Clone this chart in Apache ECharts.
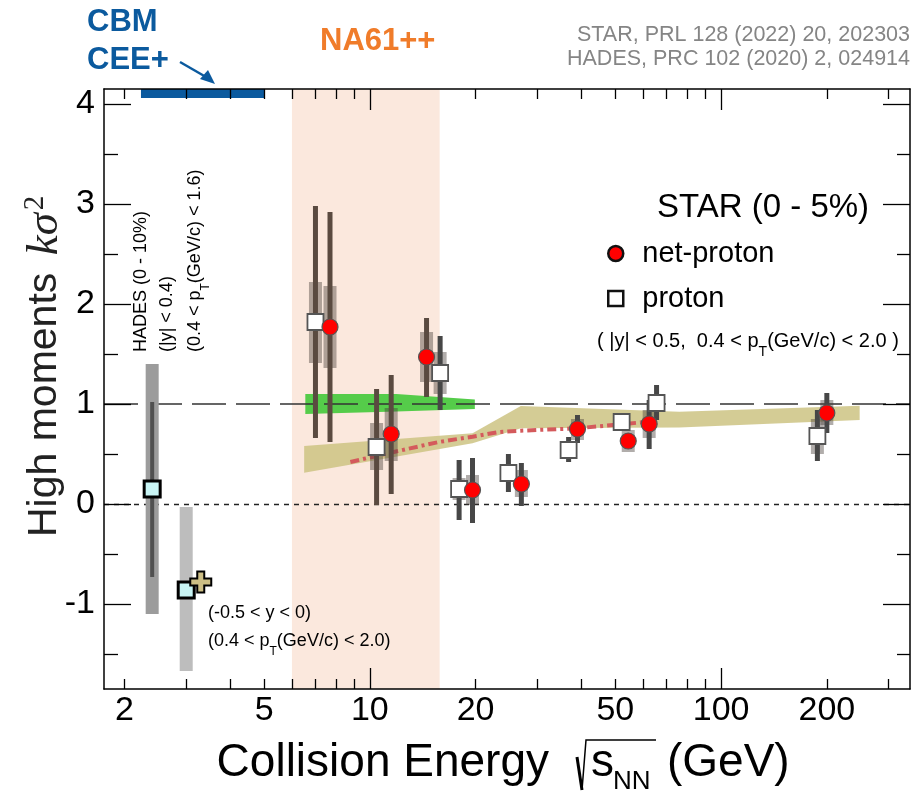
<!DOCTYPE html>
<html>
<head>
<meta charset="utf-8">
<title>High moments vs collision energy</title>
<script src="https://cdn.jsdelivr.net/npm/echarts@6/dist/echarts.min.js"></script>
<style>
html, body { margin: 0; padding: 0; background: #fff; }
#chart { width: 916px; height: 794px; }
</style>
</head>
<body>
<div id="chart"></div>
<script>
// axis ranges and ticks
const xMin = 1.75, xMax = 345
const yMin = -1.85, yMax = 4.15
const xLabelValues = [2, 5, 10, 20, 50, 100, 200]
const xMinorTicks = [2, 3, 4, 5, 6, 7, 8, 9, 20, 30, 40, 50, 60, 70, 80, 90, 200, 300]
const xMajorTicks = [10, 100]
const yLabelValues = [-1, 0, 1, 2, 3, 4]
const yMinorTicks = [-1.5, -0.5, 0.5, 1.5, 2.5, 3.5]

// future facilities
const cbmRange = [2.23, 5.0]
const cbmLevel = [4.06, 4.15]
const na61Range = [6.0, 15.8]

// STAR net-proton (0-5%)
const netpE = [7.7, 11.5, 14.5, 19.6, 27, 39, 54.4, 62.4, 200]
const netpK = [1.77, 0.70, 1.47, 0.14, 0.20, 0.75, 0.63, 0.80, 0.91]
const netpStatLo = [0.62, 0.10, 1.07, -0.19, -0.02, 0.61, 0.56, 0.55, 0.71]
const netpStatHi = [2.92, 1.29, 1.86, 0.46, 0.41, 0.89, 0.71, 1.04, 1.11]
const netpSysLo = [1.36, 0.43, 1.22, -0.01, 0.07, 0.64, 0.52, 0.66, 0.79]
const netpSysHi = [2.18, 0.96, 1.72, 0.29, 0.34, 0.85, 0.74, 0.94, 1.04]

// STAR proton (0-5%)
const protE = [7.0, 10.45, 15.85, 17.95, 24.8, 36.8, 52.1, 65.5, 188]
const protK = [1.82, 0.57, 1.31, 0.15, 0.31, 0.54, 0.82, 1.01, 0.68]
const protStatLo = [0.66, -0.01, 0.94, -0.16, 0.12, 0.42, 0.74, 0.84, 0.43]
const protStatHi = [2.98, 1.15, 1.68, 0.44, 0.50, 0.67, 0.90, 1.19, 0.94]
const protSysLo = [1.41, 0.34, 1.10, 0.04, 0.22, 0.47, 0.76, 0.93, 0.50]
const protSysHi = [2.22, 0.81, 1.52, 0.26, 0.40, 0.61, 0.88, 1.09, 0.85]

// HADES (0-10%) and STAR 3 GeV proton
const hadesE = [2.4, 3.0]
const hadesK = [0.15, -0.86]
const hadesStatLo = [-0.73]
const hadesStatHi = [1.02]
const hadesSysLo = [-1.10, -1.67]
const hadesSysHi = [1.40, -0.03]

// model point at 3 GeV
const modelE = [3.3]
const modelK = [-0.78]

// model bands
const greenE = [6.55, 11.9, 19.9]
const greenLo = [0.90, 0.925, 0.95]
const greenHi = [1.10, 1.10, 1.045]
const tanE = [6.5, 19.6, 26.9, 76, 248]
const tanLo = [0.313, 0.607, 0.757, 0.765, 0.84]
const tanHi = [0.58, 0.707, 0.98, 0.923, 0.983]
const redE = [8.8, 11.35, 15.7, 19.6, 23.3, 26.9, 38.9, 59.6, 62.4]
const redK = [0.42, 0.51, 0.62, 0.673, 0.72, 0.733, 0.757, 0.817, 0.82]

const FONT = 'Liberation Sans, Helvetica, Arial, sans-serif'
const SERIF = 'Liberation Serif, Times New Roman, serif'
const zip3 = (a, b, c) => a.map((v, i) => [v, b[i], c[i]])
const inNa61 = e => e > na61Range[0] && e < na61Range[1]

// vertical box from lo to hi, fixed pixel width
function boxRender(width, colorFn) {
    return function (params, api) {
        const e = api.value(0)
        const top = api.coord([e, api.value(2)])
        const bot = api.coord([e, api.value(1)])
        return {
            type: 'rect',
            shape: { x: top[0] - width / 2, y: top[1], width: width, height: bot[1] - top[1] },
            style: { fill: colorFn(e, params.dataIndex) }
        }
    }
}

// filled polygon between lo and hi curves
function bandRender(es, lo, hi, color) {
    return function (params, api) {
        if (params.dataIndex !== 0) return
        const pts = []
        es.forEach((e, i) => pts.push(api.coord([e, hi[i]])))
        for (let i = es.length - 1; i >= 0; i--) pts.push(api.coord([es[i], lo[i]]))
        return { type: 'polygon', shape: { points: pts }, style: { fill: color } }
    }
}

// rectangle spanning [x0,x1] x [y0,y1]
function rangeRender(color) {
    return function (params, api) {
        const a = api.coord([api.value(0), api.value(3)])
        const b = api.coord([api.value(1), api.value(2)])
        return { type: 'rect', shape: { x: a[0], y: a[1], width: b[0] - a[0], height: b[1] - a[1] }, style: { fill: color } }
    }
}

function xAxisDef(pos, ticks, len, showLine, showLabel) {
    return {
        type: 'log', logBase: 10, min: xMin, max: xMax, position: pos, z: 10,
        axisLine: { show: showLine, onZero: false, lineStyle: { color: '#000', width: 1.5 } },
        axisTick: { show: true, inside: true, length: len, customValues: ticks, lineStyle: { color: '#000', width: 1.3 } },
        axisLabel: showLabel ? {
            show: true, customValues: xLabelValues, fontSize: 34, fontFamily: FONT, color: '#000', margin: 5
        } : { show: false },
        splitLine: { show: false }, minorTick: { show: false }
    }
}

function yAxisDef(pos, ticks, len, showLine, showLabel) {
    return {
        type: 'value', min: yMin, max: yMax, position: pos, z: 10,
        axisLine: { show: showLine, onZero: false, lineStyle: { color: '#000', width: 1.5 } },
        axisTick: { show: true, inside: true, length: len, customValues: ticks, lineStyle: { color: '#000', width: 1.3 } },
        axisLabel: showLabel ? {
            show: true, customValues: yLabelValues, fontSize: 34, fontFamily: FONT, color: '#000', margin: 9
        } : { show: false },
        splitLine: { show: false }
    }
}

function label(x, y, text, font, extra) {
    return Object.assign({
        type: 'text', x: x, y: y, z: 100,
        style: { text: text, font: font, fill: '#000', align: 'left', verticalAlign: 'middle' }
    }, extra || {})
}

const subRich = size => ({ sub: { fontSize: size, fontFamily: FONT, verticalAlign: 'bottom', padding: [0, 0, -8, 0] } })

const chart = echarts.init(document.getElementById('chart'), null, { renderer: 'canvas' })

const option = {
    backgroundColor: '#fff',
    animation: false,
    grid: { left: 104, right: 6, top: 89, bottom: 105, containLabel: false },
    xAxis: [
        xAxisDef('bottom', xMinorTicks, 10, true, true),
        xAxisDef('bottom', xMajorTicks, 21, false, false),
        xAxisDef('top', xMinorTicks, 10, true, false),
        xAxisDef('top', xMajorTicks, 21, false, false)
    ],
    yAxis: [
        yAxisDef('left', yLabelValues, 27, true, true),
        yAxisDef('left', yMinorTicks, 14, false, false),
        yAxisDef('right', yLabelValues, 27, true, false),
        yAxisDef('right', yMinorTicks, 13, false, false)
    ],
    legend: {
        left: 607, top: 239, orient: 'vertical', itemGap: 16, padding: 0,
        itemWidth: 15, itemHeight: 15,
        textStyle: { fontSize: 29, fontFamily: FONT, color: '#000', padding: [0, 0, 0, 14] },
        data: [
            { name: 'net-proton', icon: 'circle', itemStyle: { color: '#ff0000', borderColor: '#111', borderWidth: 2.5, opacity: 1 } },
            { name: 'proton', icon: 'rect', itemStyle: { color: '#fff', borderColor: '#111', borderWidth: 2.5, opacity: 1 } }
        ]
    },
    series: [
        {   // NA61++ energy range
            type: 'custom', name: 'NA61++', z: 1, silent: true,
            data: [[na61Range[0], na61Range[1], yMin, yMax]],
            encode: { x: [0, 1], y: [2, 3] },
            renderItem: rangeRender('#fbe8dd')
        },
        {   // CBM / CEE+ energy range
            type: 'custom', name: 'CBM', z: 2, silent: true,
            data: [[cbmRange[0], cbmRange[1], cbmLevel[0], cbmLevel[1]]],
            encode: { x: [0, 1], y: [2, 3] },
            renderItem: rangeRender('#0b5a9e')
        },
        {   // reference lines
            type: 'line', name: 'ref', data: [], z: 2, silent: true,
            markLine: {
                symbol: 'none', silent: true, label: { show: false },
                data: [
                    { yAxis: 1, lineStyle: { type: [34, 10], color: '#333', width: 1.6 } },
                    { yAxis: 0, lineStyle: { type: [5, 5], color: '#222', width: 1.4 } }
                ]
            }
        },
        {
            type: 'custom', name: 'green band', z: 3, silent: true,
            data: zip3(greenE, greenLo, greenHi), encode: { x: 0, y: [1, 2] },
            renderItem: bandRender(greenE, greenLo, greenHi, '#55cc4a')
        },
        {
            type: 'custom', name: 'tan band', z: 3, silent: true,
            data: zip3(tanE, tanLo, tanHi), encode: { x: 0, y: [1, 2] },
            renderItem: bandRender(tanE, tanLo, tanHi, 'rgba(205,195,130,0.85)')
        },
        {
            type: 'line', name: 'model line', z: 4, silent: true, showSymbol: false,
            data: redE.map((e, i) => [e, redK[i]]),
            lineStyle: { color: '#d45a5c', width: 4, type: [9, 4, 3, 4] }
        },
        {   // HADES syst
            type: 'custom', name: 'hades sys', z: 5, silent: true,
            data: zip3(hadesE, hadesSysLo, hadesSysHi), encode: { x: 0, y: [1, 2] },
            renderItem: boxRender(13, (e, i) => i === 0 ? '#9c9c9c' : '#bdbdbd')
        },
        {   // HADES stat
            type: 'custom', name: 'hades stat', z: 5, silent: true,
            data: zip3(hadesE.slice(0, 1), hadesStatLo, hadesStatHi), encode: { x: 0, y: [1, 2] },
            renderItem: boxRender(4, () => '#505050')
        },
        {
            type: 'custom', name: 'proton sys', z: 5, silent: true,
            data: zip3(protE, protSysLo, protSysHi), encode: { x: 0, y: [1, 2] },
            renderItem: boxRender(13, () => 'rgba(70,60,55,0.42)')
        },
        {
            type: 'custom', name: 'net-proton sys', z: 5, silent: true,
            data: zip3(netpE, netpSysLo, netpSysHi), encode: { x: 0, y: [1, 2] },
            renderItem: boxRender(13, () => 'rgba(70,60,55,0.42)')
        },
        {
            type: 'custom', name: 'proton stat', z: 6, silent: true,
            data: zip3(protE, protStatLo, protStatHi), encode: { x: 0, y: [1, 2] },
            renderItem: boxRender(5, e => inNa61(e) ? '#5a4a40' : '#474747')
        },
        {
            type: 'custom', name: 'net-proton stat', z: 6, silent: true,
            data: zip3(netpE, netpStatLo, netpStatHi), encode: { x: 0, y: [1, 2] },
            renderItem: boxRender(5, e => inNa61(e) ? '#5a4a40' : '#474747')
        },
        {
            type: 'scatter', name: 'HADES', z: 7, silent: true,
            data: hadesE.map((e, i) => [e, hadesK[i]]),
            symbol: 'rect', symbolSize: 16,
            itemStyle: { color: '#c8f4f4', borderColor: '#000', borderWidth: 3, opacity: 1 }
        },
        {
            type: 'scatter', name: 'model 3 GeV', z: 7, silent: true,
            data: modelE.map((e, i) => [e, modelK[i]]),
            symbol: 'path://M-1,-3L1,-3L1,-1L3,-1L3,1L1,1L1,3L-1,3L-1,1L-3,1L-3,-1L-1,-1Z', symbolSize: 21,
            itemStyle: { color: '#cdbf85', borderColor: '#000', borderWidth: 2, opacity: 1 }
        },
        {
            type: 'scatter', name: 'proton', z: 7, silent: true,
            data: protE.map((e, i) => [e, protK[i]]),
            symbol: 'rect', symbolSize: 16,
            itemStyle: { color: '#fff', borderColor: '#555', borderWidth: 1.8, opacity: 1 }
        },
        {
            type: 'scatter', name: 'net-proton', z: 8, silent: true,
            data: netpE.map((e, i) => [e, netpK[i]]),
            symbol: 'circle', symbolSize: 16,
            itemStyle: { color: '#ff0000', borderColor: '#555', borderWidth: 1.2, opacity: 1 }
        }
    ],
    graphic: [
        label(87, 22, 'CBM', 'bold 31px ' + FONT, { style: { text: 'CBM', font: 'bold 31px ' + FONT, fill: '#0b5a9e', verticalAlign: 'middle' } }),
        label(87, 60, 'CEE+', 'bold 31px ' + FONT, { style: { text: 'CEE+', font: 'bold 31px ' + FONT, fill: '#0b5a9e', verticalAlign: 'middle' } }),
        { type: 'line', z: 100, shape: { x1: 180, y1: 62, x2: 206, y2: 77 }, style: { stroke: '#0b5a9e', lineWidth: 2.5 } },
        { type: 'polygon', z: 100, shape: { points: [[215, 84], [200, 79], [208, 70]] }, style: { fill: '#0b5a9e' } },
        label(320, 41, 'NA61++', '', { style: { text: 'NA61++', font: 'bold 31px ' + FONT, fill: '#f07c2a', verticalAlign: 'middle' } }),
        label(910, 35, '', '', { style: { text: 'STAR, PRL 128 (2022) 20, 202303', font: '21.5px ' + FONT, fill: '#858585', align: 'right', verticalAlign: 'middle' } }),
        label(910, 59, '', '', { style: { text: 'HADES, PRC 102 (2020) 2, 024914', font: '21.5px ' + FONT, fill: '#858585', align: 'right', verticalAlign: 'middle' } }),
        label(657, 208, 'STAR (0 - 5%)', '33px ' + FONT),
        label(597, 341, '', '', {
            style: {
                text: '( |y| < 0.5,  0.4 < p{sub|T}(GeV/c) < 2.0 )', font: '20px ' + FONT, fill: '#000', align: 'left', verticalAlign: 'middle',
                rich: subRich(14)
            }
        }),
        // HADES rotated labels
        label(141, 352, 'HADES (0 - 10%)', '18px ' + FONT, { rotation: Math.PI / 2 }),
        label(167, 352, '(|y| < 0.4)', '18px ' + FONT, { rotation: Math.PI / 2 }),
        label(195, 352, '', '', {
            rotation: Math.PI / 2,
            style: { text: '(0.4 < p{sub|T}(GeV/c) < 1.6)', font: '18px ' + FONT, fill: '#000', align: 'left', verticalAlign: 'middle', rich: subRich(12) }
        }),
        label(208, 613, '(-0.5 < y < 0)', '18px ' + FONT),
        label(208, 641, '', '', {
            style: { text: '(0.4 < p{sub|T}(GeV/c) < 2.0)', font: '18px ' + FONT, fill: '#000', align: 'left', verticalAlign: 'middle', rich: subRich(12) }
        }),
        // y axis title
        label(45, 537, '', '', {
            rotation: Math.PI / 2,
            style: {
                text: 'High moments {k|kσ}{s|2}', font: '41px ' + FONT, fill: '#222', align: 'left', verticalAlign: 'middle',
                rich: {
                    k: { fontFamily: SERIF, fontStyle: 'italic', fontSize: 45, padding: [0, 0, 0, 6] },
                    s: { fontFamily: SERIF, fontSize: 29, padding: [0, 0, 20, 3] }
                }
            }
        }),
        // x axis title
        label(549, 763, '', '', { style: { text: 'Collision Energy', font: '46px ' + FONT, fill: '#000', align: 'right', verticalAlign: 'middle' } }),
        { type: 'line', z: 100, shape: { x1: 577, y1: 757, x2: 582, y2: 790 }, style: { stroke: '#000', lineWidth: 3 } },
        { type: 'polyline', z: 100, shape: { points: [[582, 790], [586, 740], [656, 740]] }, style: { stroke: '#000', lineWidth: 1.5, fill: null } },
        label(591, 763, 's', '46px ' + FONT),
        label(613, 782, 'NN', '26px ' + FONT),
        label(667, 763, '(GeV)', '46px ' + FONT)
    ]
}

chart.setOption(option)
</script>
</body>
</html>
